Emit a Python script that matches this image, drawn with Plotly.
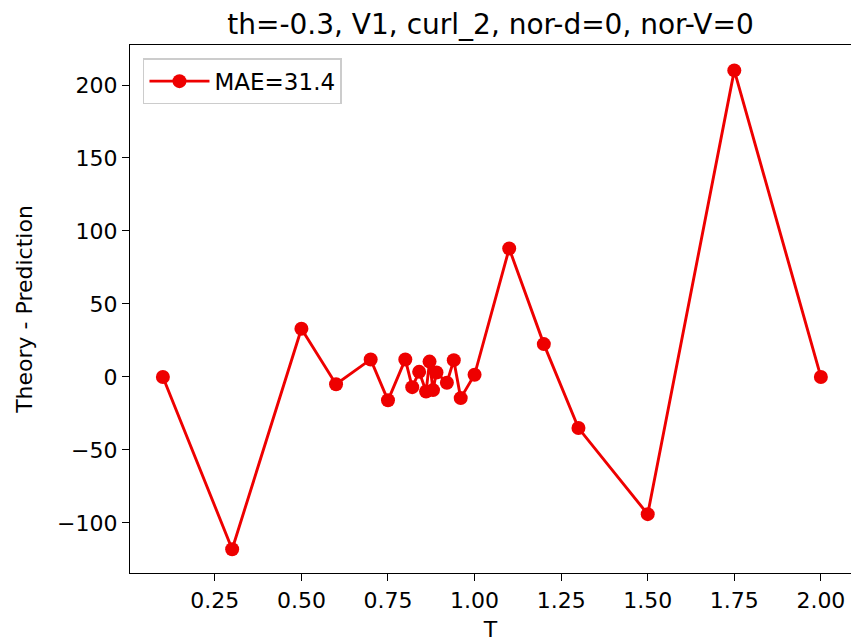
import plotly.graph_objects as go

T = [0.1, 0.3, 0.5, 0.6, 0.7, 0.75, 0.8, 0.82, 0.84, 0.86, 0.87, 0.88, 0.89, 0.92, 0.94, 0.96, 1.0,
     1.1, 1.2, 1.3, 1.5, 1.75, 2.0]
diff = [0, -118, 33, -5, 12, -16, 12, -7, 3.5, -10, 10.5, -9, 3, -4, 11.5, -14.5, 1.5,
        88, 22.5, -35, -94, 210, 0]
x_ticks = [0.25, 0.5, 0.75, 1.0, 1.25, 1.5, 1.75, 2.0]
y_ticks = [-100, -50, 0, 50, 100, 150, 200]

fig = go.Figure()
fig.add_trace(go.Scatter(
    x=T, y=diff, mode="lines+markers", name="MAE=31.4",
    line=dict(color="#ee0000", width=2.9),
    marker=dict(color="#ee0000", size=14),
))

font = "DejaVu Sans, sans-serif"
fig.update_layout(
    width=851, height=644,
    margin=dict(l=130, r=0, t=45, b=71),
    paper_bgcolor="white", plot_bgcolor="white",
    font=dict(family=font, size=22, color="black"),
    title=dict(text="th=-0.3, V1, curl_2, nor-d=0, nor-V=0", x=0.5, xref="paper",
               xanchor="center", y=0.962, yanchor="middle", yref="container",
               font=dict(family=font, size=28)),
    showlegend=True,
    legend=dict(x=0.018, y=0.975, xanchor="left", yanchor="top",
                bordercolor="#cccccc", borderwidth=1.5, bgcolor="rgba(255,255,255,0.8)",
                font=dict(family=font, size=23), itemwidth=60),
    xaxis=dict(range=[0.005, 2.087], tickvals=x_ticks, tickformat=".2f",
               showgrid=False, zeroline=False, ticks="outside", ticklen=7, tickwidth=1.4,
               tickcolor="black", showline=True, linecolor="black", linewidth=1.4, mirror=True,
               title=dict(text="T", standoff=10, font=dict(family=font, size=22)),
               tickfont=dict(family=font, size=22)),
    yaxis=dict(range=[-134.3, 227.4], tickvals=y_ticks,
               showgrid=False, zeroline=False, ticks="outside", ticklen=7, tickwidth=1.4,
               tickcolor="black", showline=True, linecolor="black", linewidth=1.4, mirror=True,
               title=dict(text="Theory - Prediction", standoff=18, font=dict(family=font, size=22)),
               tickfont=dict(family=font, size=22)),
)

fig.write_html("out.html")
